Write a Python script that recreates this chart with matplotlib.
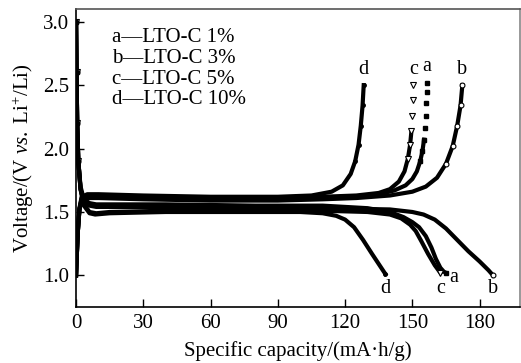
import numpy as np
import matplotlib.pyplot as plt

plt.rcParams['font.family'] = ['Liberation Serif', 'DejaVu Serif']
plt.rcParams['mathtext.fontset'] = 'custom'
plt.rcParams['mathtext.rm'] = 'Liberation Serif'
plt.rcParams['mathtext.it'] = 'Liberation Serif:italic'

# charge curves (capacity mA*h/g, voltage V)
a_chg_x = [0, 0.3, 0.8, 1.5, 2.5, 5, 10, 30, 60, 90, 110, 125, 135, 142, 147, 150, 152, 153.5,
           154.5, 155.2, 155.7, 156.0, 156.2, 156.4, 156.5]
a_chg_y = [1.0, 1.15, 1.35, 1.52, 1.6, 1.62, 1.62, 1.61, 1.6, 1.6, 1.61, 1.62, 1.64, 1.67, 1.71,
           1.76, 1.82, 1.9, 1.98, 2.07, 2.16, 2.26, 2.36, 2.45, 2.52]
b_chg_x = [0, 0.3, 0.8, 1.5, 2.5, 5, 10, 30, 60, 90, 110, 125, 140, 150, 156, 161, 165, 168,
           170, 171.5, 172.3]
b_chg_y = [1.0, 1.15, 1.35, 1.52, 1.59, 1.61, 1.61, 1.6, 1.59, 1.59, 1.6, 1.61, 1.63, 1.66, 1.7,
           1.77, 1.88, 2.02, 2.18, 2.34, 2.5]
c_chg_x = [0, 0.3, 0.8, 1.5, 2.5, 5, 10, 30, 60, 90, 110, 125, 135, 140, 144, 146.5, 148, 149,
           149.6, 150.0, 150.3, 150.5]
c_chg_y = [1.0, 1.15, 1.35, 1.52, 1.61, 1.63, 1.63, 1.62, 1.61, 1.61, 1.62, 1.63, 1.65, 1.68,
           1.74, 1.82, 1.92, 2.03, 2.14, 2.26, 2.38, 2.5]
d_chg_x = [0, 0.3, 0.8, 1.5, 2.5, 5, 10, 30, 60, 90, 105, 114, 119, 122.5, 124.5, 126,
           127, 127.8, 128.3]
d_chg_y = [1.0, 1.15, 1.35, 1.53, 1.62, 1.64, 1.64, 1.63, 1.62, 1.62, 1.63, 1.66, 1.71, 1.8,
           1.9, 2.03, 2.18, 2.34, 2.5]

# discharge curves
a_dis_x = [0, 0.2, 0.5, 1, 2, 3.5, 6, 9, 15, 40, 80, 110, 130, 140, 146, 150, 153, 156,
           158.5, 160.5, 162.5, 164, 165]
a_dis_y = [3.0, 2.6, 2.2, 1.9, 1.7, 1.6, 1.57, 1.56, 1.56, 1.56, 1.55, 1.55, 1.53, 1.5, 1.46,
           1.42, 1.38, 1.31, 1.22, 1.13, 1.06, 1.03, 1.02]
b_dis_x = [0, 0.2, 0.5, 1, 2, 3.5, 6, 9, 15, 40, 80, 110, 140, 150, 155, 160, 165, 170, 175,
           180, 184, 186]
b_dis_y = [3.0, 2.6, 2.2, 1.9, 1.68, 1.58, 1.55, 1.54, 1.54, 1.54, 1.53, 1.53, 1.52, 1.5, 1.48,
           1.44, 1.37, 1.28, 1.19, 1.11, 1.04, 1.0]
c_dis_x = [0, 0.2, 0.5, 1, 2, 3.5, 6, 9, 15, 40, 80, 110, 130, 140, 145, 149, 151.5, 154, 157,
           160, 162.5]
c_dis_y = [3.0, 2.6, 2.2, 1.9, 1.68, 1.56, 1.5, 1.49, 1.5, 1.51, 1.51, 1.51, 1.5, 1.48, 1.45,
           1.4, 1.35, 1.27, 1.17, 1.08, 1.02]
d_dis_x = [0, 0.2, 0.5, 1, 2, 3.5, 6, 8.5, 15, 40, 80, 100, 110, 116, 120, 124, 128, 132, 135, 138]
d_dis_y = [3.0, 2.6, 2.2, 1.9, 1.68, 1.55, 1.49, 1.48, 1.49, 1.5, 1.5, 1.5, 1.49, 1.47, 1.44,
           1.38, 1.28, 1.17, 1.09, 1.01]

legend_lines = ['a\u2014LTO-C 1%', 'b\u2014LTO-C 3%', 'c\u2014LTO-C 5%', 'd\u2014LTO-C 10%']

fig = plt.figure(figsize=(5.21, 3.63), dpi=100)
ax = fig.add_axes([0.146, 0.154, 0.852, 0.821])

styles = {
    'a': dict(marker='s', ms=3, mfc='k', mec='k'),
    'b': dict(marker='o', ms=3.5, mfc='white', mec='k', mew=0.8),
    'c': dict(marker='v', ms=4, mfc='white', mec='k', mew=0.8),
    'd': dict(marker='o', ms=2.5, mfc='k', mec='k'),
}
series = {
    'a': (a_chg_x, a_chg_y, a_dis_x, a_dis_y),
    'b': (b_chg_x, b_chg_y, b_dis_x, b_dis_y),
    'c': (c_chg_x, c_chg_y, c_dis_x, c_dis_y),
    'd': (d_chg_x, d_chg_y, d_dis_x, d_dis_y),
}
for key, (cx, cy, dx, dy) in series.items():
    cx, cy = np.array(cx), np.array(cy)
    dx, dy = np.array(dx), np.array(dy)
    cut = 2.15 if key in ('a', 'c') else 3.0
    m = cy <= cut
    ax.plot(cx[m], cy[m], '-', color='k', lw=3)
    mk = cy > 1.85
    ax.plot(cx[mk], cy[mk], ls='none', **styles[key])
    ax.plot(dx, dy, '-', color='k', lw=3)
    mk = dy > 1.8
    ax.plot(dx[mk], dy[mk], ls='none', **styles[key])
    # end labels
    ax.text(cx[-1], cy[-1] + 0.05, key, ha='center', va='bottom', fontsize=14.5)
    ax.plot(dx[-1], dy[-1], ls='none', **styles[key])

ax.text(d_dis_x[-1], 0.82, 'd', ha='center', va='bottom', fontsize=14.5)
ax.text(c_dis_x[-1], 0.82, 'c', ha='center', va='bottom', fontsize=14.5)
ax.text(a_dis_x[-1] + 3.5, 0.91, 'a', ha='center', va='bottom', fontsize=14.5)
ax.text(b_dis_x[-1], 0.82, 'b', ha='center', va='bottom', fontsize=14.5)

for i, s in enumerate(legend_lines):
    ax.text(0.082, 0.905 - i * 0.07, s, transform=ax.transAxes, fontsize=15,
            ha='left', va='center')

ax.set_xlim(0, 198)
ax.set_ylim(0.75, 3.1)
ax.set_xticks([0, 30, 60, 90, 120, 150, 180])
ax.set_yticks([1.0, 1.5, 2.0, 2.5, 3.0])
ax.set_yticklabels(['1.0', '1.5', '2.0', '2.5', '3.0'])
ax.tick_params(direction='in', length=6, width=1, labelsize=15, pad=5)
for sp in ax.spines.values():
    sp.set_linewidth(1.2)
ax.spines['top'].set_color('#555555')
ax.spines['right'].set_color('#888888')

ax.set_xlabel('Specific capacity/(mA\u00b7h/g)', fontsize=15, labelpad=6)
ax.set_ylabel(r'Voltage/(V $\mathit{vs.}$ Li$^{+}$/Li)', fontsize=15, labelpad=5)

fig.savefig('out.png', dpi=100)
